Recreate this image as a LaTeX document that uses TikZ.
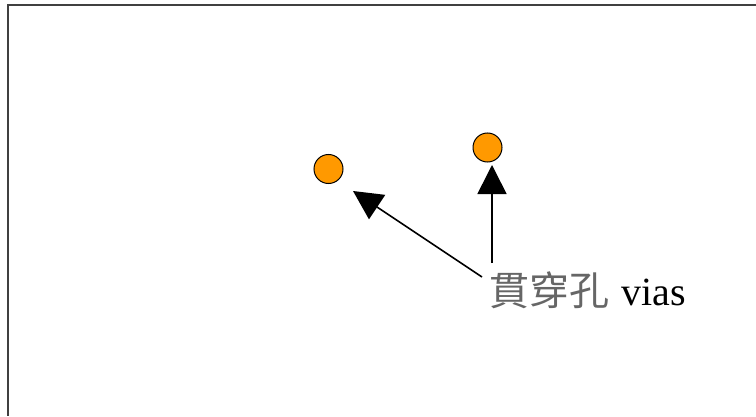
\documentclass[tikz,border=0pt]{standalone}
\usepackage{fontspec}
\setmainfont{Liberation Serif}
\newfontfamily\cjk{Noto Sans CJK TC}
\usetikzlibrary{arrows.meta}
\definecolor{viaorange}{HTML}{FF9900}
\definecolor{framegray}{HTML}{404040}
\tikzset{
  via/.style={circle, draw=black, line width=1pt, fill=viaorange, minimum size=29pt, inner sep=0pt},
  pointer/.style={line width=1.6pt, -{Triangle[length=29pt, width=29pt]}},
  frameline/.style={line width=2pt, draw=framegray}
}
\begin{document}
\begin{tikzpicture}[x=1pt, y=1pt]
\useasboundingbox (0,0) rectangle (756,416);
\fill[white] (0,0) rectangle (756,416);
\coordinate (ftr) at (756,411);
\coordinate (ftl) at (8,411);
\coordinate (fbl) at (8,0);
\draw[frameline] (ftr) -- (ftl) -- (fbl);
\node[via] (v1) at (328.5,247) {};
\node[via] (v2) at (487.5,268.5) {};
\node[anchor=base west, inner sep=0pt, font=\fontsize{40}{46}\selectfont] (lbl) at (489,111) {{\cjk\color{black!60}貫穿孔}\hspace{2pt} vias};
\coordinate (s1) at (482,139);
\coordinate (t1) at (353,225);
\coordinate (s2) at (492,153);
\coordinate (t2) at (492,251);
\draw[pointer] (s1) -- (t1);
\draw[pointer] (s2) -- (t2);
\end{tikzpicture}
\end{document}
